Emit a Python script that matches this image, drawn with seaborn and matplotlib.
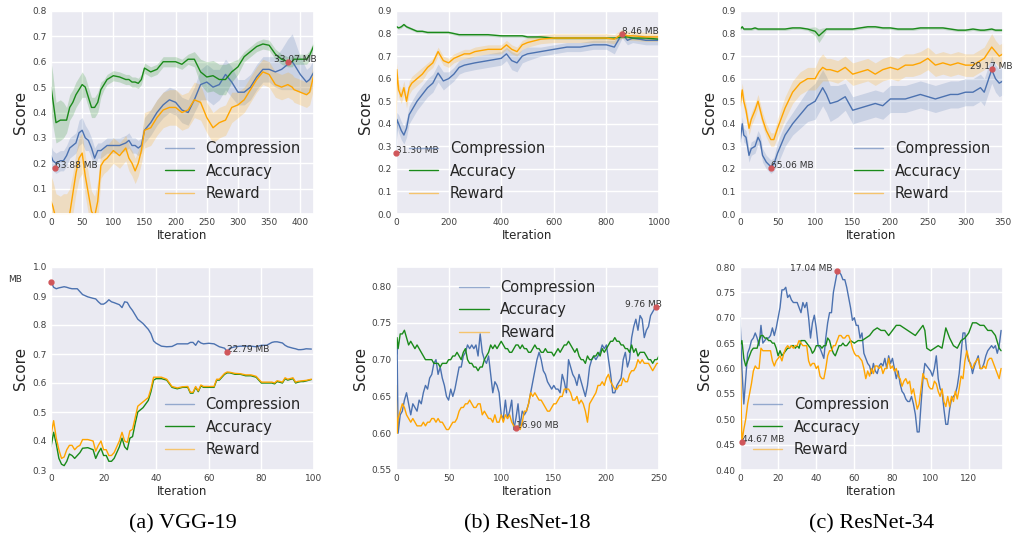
import seaborn as sns
import matplotlib.pyplot as plt
import numpy as np

# ---------------- (a) VGG-19, top: averaged runs ----------------
vgg_top_x = [0, 3, 8, 15, 20, 25, 30, 35, 40, 45,
             50, 55, 60, 65, 70, 75, 80, 85, 90, 100,
             110, 120, 125, 130, 135, 140, 145, 150, 160, 170,
             180, 190, 200, 210, 220, 230, 240, 250, 260, 270,
             280, 290, 300, 310, 320, 330, 340, 350, 360, 370,
             380, 387, 390, 400, 410, 415, 422]
vgg_top_comp = [0.23, 0.21, 0.20, 0.21, 0.21, 0.23, 0.26, 0.27, 0.28, 0.32,
                0.33, 0.30, 0.29, 0.26, 0.22, 0.25, 0.25, 0.26, 0.27, 0.27,
                0.27, 0.28, 0.29, 0.27, 0.27, 0.26, 0.27, 0.33, 0.36, 0.40,
                0.43, 0.45, 0.44, 0.41, 0.40, 0.45, 0.51, 0.52, 0.50, 0.51,
                0.55, 0.52, 0.48, 0.48, 0.50, 0.54, 0.57, 0.57, 0.56, 0.57,
                0.59, 0.60, 0.59, 0.55, 0.52, 0.53, 0.56]
vgg_top_comp_sd = [0.04, 0.04, 0.04, 0.04, 0.04, 0.04, 0.04, 0.04, 0.04, 0.05,
                   0.05, 0.05, 0.04, 0.04, 0.04, 0.03, 0.03, 0.03, 0.03, 0.03,
                   0.03, 0.03, 0.03, 0.03, 0.03, 0.03, 0.03, 0.05, 0.05, 0.05,
                   0.05, 0.05, 0.05, 0.05, 0.05, 0.05, 0.06, 0.07, 0.07, 0.06,
                   0.06, 0.06, 0.05, 0.05, 0.05, 0.05, 0.05, 0.05, 0.06, 0.08,
                   0.10, 0.11, 0.10, 0.07, 0.05, 0.05, 0.05]
vgg_top_acc = [0.50, 0.45, 0.36, 0.37, 0.37, 0.37, 0.42, 0.44, 0.47, 0.49,
               0.51, 0.50, 0.46, 0.42, 0.42, 0.44, 0.49, 0.51, 0.53, 0.545,
               0.54, 0.53, 0.53, 0.52, 0.52, 0.515, 0.53, 0.575, 0.56, 0.57,
               0.60, 0.60, 0.60, 0.59, 0.61, 0.61, 0.56, 0.54, 0.545, 0.53,
               0.53, 0.56, 0.58, 0.62, 0.64, 0.66, 0.67, 0.665, 0.63, 0.61,
               0.60, 0.60, 0.61, 0.61, 0.61, 0.625, 0.665]
vgg_top_acc_sd = [0.10, 0.10, 0.08, 0.08, 0.07, 0.05, 0.05, 0.05, 0.05, 0.05,
                  0.05, 0.04, 0.04, 0.04, 0.04, 0.04, 0.03, 0.02, 0.02, 0.02,
                  0.02, 0.02, 0.02, 0.02, 0.02, 0.02, 0.02, 0.02, 0.02, 0.02,
                  0.02, 0.02, 0.02, 0.02, 0.02, 0.03, 0.05, 0.06, 0.06, 0.06,
                  0.06, 0.04, 0.03, 0.02, 0.02, 0.02, 0.02, 0.02, 0.02, 0.02,
                  0.02, 0.02, 0.02, 0.02, 0.02, 0.02, 0.02]
vgg_top_rew = [0.05, 0.03, -0.02, -0.03, -0.02, -0.02, 0.0, 0.08, 0.16, 0.22,
               0.24, 0.15, 0.08, 0.01, -0.01, 0.05, 0.19, 0.21, 0.22, 0.25,
               0.23, 0.26, 0.22, 0.20, 0.17, 0.20, 0.25, 0.33, 0.34, 0.38,
               0.41, 0.42, 0.42, 0.40, 0.41, 0.45, 0.44, 0.38, 0.34, 0.36,
               0.37, 0.42, 0.43, 0.45, 0.49, 0.53, 0.56, 0.55, 0.51, 0.50,
               0.51, 0.50, 0.49, 0.48, 0.47, 0.48, 0.55]
vgg_top_rew_sd = [0.10, 0.10, 0.10, 0.10, 0.10, 0.10, 0.10, 0.08, 0.08, 0.08,
                  0.08, 0.08, 0.08, 0.08, 0.08, 0.08, 0.05, 0.05, 0.05, 0.05,
                  0.05, 0.05, 0.05, 0.05, 0.05, 0.05, 0.05, 0.07, 0.07, 0.07,
                  0.07, 0.07, 0.07, 0.07, 0.07, 0.07, 0.07, 0.06, 0.06, 0.06,
                  0.06, 0.06, 0.05, 0.05, 0.05, 0.05, 0.05, 0.05, 0.05, 0.05,
                  0.05, 0.05, 0.05, 0.05, 0.05, 0.05, 0.05]

# ---------------- (b) ResNet-18, top ----------------
r18_top_x = [0, 3, 10, 20, 30, 40, 50, 60, 80, 100,
             120, 140, 160, 180, 200, 220, 240, 260, 280, 300,
             350, 400, 420, 440, 460, 480, 500, 550, 600, 650,
             700, 750, 800, 830, 860, 880, 900, 950, 1000]
r18_top_comp = [0.27, 0.42, 0.40, 0.37, 0.35, 0.38, 0.44, 0.46, 0.50, 0.53,
                0.56, 0.58, 0.625, 0.59, 0.60, 0.62, 0.65, 0.66, 0.665, 0.67,
                0.68, 0.69, 0.71, 0.68, 0.67, 0.70, 0.71, 0.72, 0.73, 0.74,
                0.74, 0.75, 0.75, 0.74, 0.80, 0.77, 0.78, 0.77, 0.77]
r18_top_comp_sd = [0.0, 0.03, 0.04, 0.04, 0.04, 0.04, 0.04, 0.04, 0.04, 0.04,
                   0.04, 0.04, 0.04, 0.04, 0.03, 0.03, 0.03, 0.03, 0.03, 0.03,
                   0.03, 0.03, 0.03, 0.04, 0.04, 0.03, 0.03, 0.02, 0.02, 0.02,
                   0.02, 0.02, 0.02, 0.03, 0.02, 0.02, 0.02, 0.02, 0.02]
r18_top_acc = [0.83, 0.83, 0.825, 0.83, 0.84, 0.83, 0.825, 0.82, 0.81, 0.81,
               0.805, 0.805, 0.805, 0.805, 0.805, 0.80, 0.795, 0.795, 0.795, 0.795,
               0.795, 0.79, 0.79, 0.79, 0.79, 0.79, 0.785, 0.785, 0.78, 0.78,
               0.78, 0.78, 0.78, 0.78, 0.785, 0.785, 0.78, 0.78, 0.775]
r18_top_acc_sd = [0.006] * 39
r18_top_rew = [0.38, 0.64, 0.55, 0.52, 0.56, 0.50, 0.56, 0.58, 0.60, 0.62,
               0.65, 0.67, 0.72, 0.68, 0.67, 0.69, 0.70, 0.71, 0.71, 0.72,
               0.73, 0.73, 0.75, 0.73, 0.72, 0.75, 0.76, 0.775, 0.78, 0.78,
               0.78, 0.78, 0.78, 0.775, 0.80, 0.79, 0.79, 0.785, 0.785]
r18_top_rew_sd = [0.03] * 10 + [0.02] * 29

# ---------------- (c) ResNet-34, top ----------------
r34_top_x = [0, 3, 5, 8, 12, 15, 20, 24, 27, 30,
             35, 41, 45, 50, 60, 70, 80, 90, 100, 105,
             110, 115, 120, 130, 140, 150, 160, 170, 180, 190,
             200, 210, 220, 230, 240, 250, 260, 270, 280, 290,
             300, 310, 320, 325, 335, 340, 345, 350]
r34_top_comp = [0.32, 0.40, 0.35, 0.34, 0.26, 0.29, 0.30, 0.34, 0.32, 0.26,
                0.23, 0.21, 0.22, 0.27, 0.35, 0.40, 0.44, 0.48, 0.50, 0.53,
                0.56, 0.53, 0.49, 0.50, 0.52, 0.46, 0.47, 0.48, 0.49, 0.48,
                0.51, 0.51, 0.51, 0.52, 0.53, 0.52, 0.51, 0.52, 0.53, 0.53,
                0.54, 0.54, 0.56, 0.54, 0.64, 0.60, 0.58, 0.59]
r34_top_comp_sd = [0.03, 0.03, 0.03, 0.03, 0.03, 0.03, 0.03, 0.03, 0.03, 0.03,
                   0.03, 0.03, 0.03, 0.05, 0.05, 0.05, 0.06, 0.07, 0.08, 0.08,
                   0.08, 0.08, 0.08, 0.07, 0.06, 0.06, 0.06, 0.06, 0.06, 0.06,
                   0.06, 0.06, 0.06, 0.06, 0.06, 0.06, 0.06, 0.06, 0.06, 0.06,
                   0.06, 0.06, 0.06, 0.06, 0.06, 0.06, 0.06, 0.06]
r34_top_acc = [0.82, 0.83, 0.82, 0.82, 0.82, 0.82, 0.825, 0.82, 0.82, 0.82,
               0.82, 0.82, 0.82, 0.82, 0.82, 0.825, 0.825, 0.82, 0.81, 0.79,
               0.805, 0.82, 0.82, 0.82, 0.82, 0.82, 0.825, 0.83, 0.83, 0.825,
               0.825, 0.82, 0.82, 0.82, 0.825, 0.825, 0.825, 0.825, 0.82, 0.815,
               0.815, 0.82, 0.815, 0.815, 0.82, 0.815, 0.815, 0.815]
r34_top_acc_sd = [0.006] * 18 + [0.02, 0.03, 0.02] + [0.006] * 27
r34_top_rew = [0.48, 0.55, 0.50, 0.46, 0.38, 0.42, 0.46, 0.50, 0.46, 0.42,
               0.37, 0.33, 0.33, 0.38, 0.47, 0.54, 0.58, 0.60, 0.60, 0.63,
               0.65, 0.64, 0.64, 0.63, 0.65, 0.62, 0.63, 0.64, 0.62, 0.64,
               0.65, 0.64, 0.66, 0.66, 0.67, 0.69, 0.66, 0.67, 0.66, 0.67,
               0.66, 0.66, 0.68, 0.69, 0.74, 0.72, 0.70, 0.71]
r34_top_rew_sd = [0.03, 0.03, 0.03, 0.03, 0.03, 0.03, 0.03, 0.03, 0.03, 0.03,
                  0.03, 0.03, 0.03, 0.04, 0.05, 0.05, 0.05, 0.05, 0.05, 0.06,
                  0.06, 0.05, 0.05, 0.05, 0.05, 0.05, 0.05, 0.05, 0.05, 0.05,
                  0.05, 0.05, 0.05, 0.05, 0.05, 0.05, 0.05, 0.05, 0.05, 0.05,
                  0.05, 0.05, 0.05, 0.05, 0.06, 0.05, 0.05, 0.05]

# ---------------- (a) VGG-19, bottom: single run ----------------
vgg_bot_x = [0, 1, 2, 3, 4, 5, 6, 7, 8, 9,
             10, 11, 12, 14, 16, 17, 18, 19, 20, 21,
             22, 23, 24, 26, 27, 28, 29, 30, 31, 32,
             33, 35, 37, 38, 39, 40, 42, 44, 46, 48,
             50, 52, 53, 54, 55, 56, 57, 58, 60, 62,
             63, 64, 66, 67, 68, 70, 72, 74, 76, 78,
             80, 82, 84, 85, 86, 88, 89, 90, 92, 93,
             94, 95, 96, 97, 99]
vgg_bot_comp = [0.95, 0.93, 0.925, 0.928, 0.93, 0.932, 0.93, 0.927, 0.925, 0.925,
                0.925, 0.915, 0.905, 0.897, 0.892, 0.89, 0.88, 0.872, 0.872, 0.878,
                0.887, 0.88, 0.877, 0.87, 0.86, 0.88, 0.878, 0.862, 0.85, 0.835,
                0.82, 0.805, 0.785, 0.77, 0.745, 0.737, 0.727, 0.725, 0.726, 0.735,
                0.735, 0.735, 0.74, 0.74, 0.73, 0.745, 0.738, 0.735, 0.737, 0.735,
                0.73, 0.725, 0.72, 0.708, 0.72, 0.725, 0.727, 0.727, 0.727, 0.725,
                0.73, 0.73, 0.74, 0.742, 0.742, 0.738, 0.73, 0.725, 0.72, 0.718,
                0.715, 0.715, 0.716, 0.718, 0.717]
vgg_bot_acc = [0.38, 0.43, 0.39, 0.34, 0.32, 0.315, 0.33, 0.355, 0.35, 0.34,
               0.35, 0.36, 0.375, 0.377, 0.37, 0.34, 0.36, 0.375, 0.35, 0.35,
               0.33, 0.33, 0.34, 0.38, 0.41, 0.38, 0.37, 0.41, 0.415, 0.46,
               0.50, 0.515, 0.54, 0.57, 0.61, 0.615, 0.615, 0.61, 0.585, 0.58,
               0.585, 0.585, 0.565, 0.565, 0.585, 0.57, 0.59, 0.585, 0.585, 0.585,
               0.61, 0.61, 0.63, 0.635, 0.635, 0.63, 0.63, 0.625, 0.625, 0.62,
               0.60, 0.60, 0.60, 0.597, 0.605, 0.60, 0.615, 0.61, 0.615, 0.60,
               0.603, 0.605, 0.605, 0.607, 0.612]
vgg_bot_rew = [0.42, 0.47, 0.41, 0.37, 0.34, 0.345, 0.37, 0.385, 0.385, 0.37,
               0.38, 0.385, 0.405, 0.405, 0.40, 0.365, 0.385, 0.40, 0.37, 0.37,
               0.35, 0.35, 0.36, 0.40, 0.43, 0.40, 0.395, 0.435, 0.44, 0.48,
               0.52, 0.535, 0.55, 0.58, 0.62, 0.62, 0.62, 0.613, 0.588, 0.583,
               0.587, 0.588, 0.568, 0.568, 0.588, 0.573, 0.593, 0.588, 0.588, 0.588,
               0.613, 0.613, 0.633, 0.638, 0.637, 0.633, 0.632, 0.628, 0.628, 0.623,
               0.603, 0.603, 0.603, 0.60, 0.608, 0.603, 0.618, 0.613, 0.618, 0.603,
               0.606, 0.607, 0.608, 0.609, 0.613]

# ---------------- (b) ResNet-18, bottom ----------------
r18_bot_x = [0, 1] + list(range(2, 251, 2))
r18_bot_comp = [0.70, 0.72,
                0.60, 0.625, 0.63, 0.645, 0.655, 0.64, 0.625, 0.64, 0.635, 0.63,
                0.645, 0.64, 0.655, 0.665, 0.66, 0.675, 0.68, 0.695, 0.70, 0.68,
                0.69, 0.675, 0.665, 0.65, 0.645, 0.66, 0.65, 0.66, 0.675, 0.69,
                0.69, 0.705, 0.71, 0.72, 0.715, 0.72, 0.715, 0.72, 0.705, 0.735,
                0.71, 0.70, 0.695, 0.705, 0.68, 0.655, 0.67, 0.665, 0.655, 0.625,
                0.62, 0.645, 0.62, 0.63, 0.645, 0.605, 0.62, 0.64, 0.61, 0.63,
                0.625, 0.63, 0.64, 0.655, 0.67, 0.685, 0.70, 0.71, 0.70, 0.685,
                0.68, 0.67, 0.665, 0.66, 0.665, 0.66, 0.66, 0.655, 0.68, 0.67,
                0.655, 0.70, 0.69, 0.68, 0.675, 0.665, 0.68, 0.67, 0.66, 0.65,
                0.665, 0.69, 0.70, 0.705, 0.70, 0.705, 0.71, 0.72, 0.715, 0.72,
                0.70, 0.68, 0.655, 0.655, 0.665, 0.67, 0.675, 0.70, 0.71, 0.69,
                0.70, 0.73, 0.745, 0.755, 0.74, 0.76, 0.755, 0.73, 0.74, 0.745,
                0.76, 0.765, 0.77, 0.77, 0.77]
r18_bot_acc = [0.715, 0.73,
               0.715, 0.735, 0.735, 0.74, 0.73, 0.72, 0.725, 0.72, 0.715, 0.72,
               0.715, 0.71, 0.705, 0.70, 0.70, 0.70, 0.70, 0.695, 0.695, 0.695,
               0.69, 0.695, 0.695, 0.695, 0.70, 0.70, 0.705, 0.705, 0.71, 0.705,
               0.70, 0.71, 0.715, 0.70, 0.695, 0.695, 0.69, 0.69, 0.685, 0.69,
               0.69, 0.70, 0.705, 0.71, 0.72, 0.715, 0.72, 0.715, 0.72, 0.725,
               0.72, 0.715, 0.715, 0.71, 0.71, 0.715, 0.72, 0.72, 0.715, 0.72,
               0.715, 0.715, 0.71, 0.71, 0.715, 0.72, 0.715, 0.715, 0.71, 0.71,
               0.715, 0.71, 0.71, 0.71, 0.705, 0.71, 0.715, 0.71, 0.715, 0.72,
               0.72, 0.725, 0.72, 0.715, 0.71, 0.715, 0.705, 0.70, 0.70, 0.695,
               0.705, 0.70, 0.70, 0.705, 0.705, 0.71, 0.705, 0.715, 0.71, 0.715,
               0.72, 0.725, 0.725, 0.73, 0.725, 0.725, 0.72, 0.72, 0.715, 0.715,
               0.71, 0.72, 0.71, 0.715, 0.705, 0.71, 0.71, 0.71, 0.705, 0.70,
               0.70, 0.695, 0.70, 0.70, 0.705]
r18_bot_rew = [0.665, 0.60,
               0.62, 0.63, 0.64, 0.635, 0.625, 0.62, 0.615, 0.62, 0.615, 0.61,
               0.61, 0.61, 0.615, 0.61, 0.615, 0.615, 0.62, 0.62, 0.615, 0.62,
               0.615, 0.615, 0.61, 0.605, 0.605, 0.61, 0.615, 0.615, 0.62, 0.63,
               0.635, 0.635, 0.64, 0.64, 0.645, 0.64, 0.635, 0.635, 0.64, 0.64,
               0.625, 0.63, 0.625, 0.62, 0.62, 0.615, 0.625, 0.615, 0.615, 0.625,
               0.615, 0.625, 0.62, 0.625, 0.615, 0.61, 0.607, 0.61, 0.605, 0.615,
               0.63, 0.63, 0.64, 0.655, 0.65, 0.655, 0.65, 0.645, 0.645, 0.64,
               0.635, 0.63, 0.63, 0.635, 0.64, 0.64, 0.645, 0.65, 0.65, 0.66,
               0.66, 0.66, 0.655, 0.645, 0.645, 0.65, 0.64, 0.645, 0.64, 0.63,
               0.615, 0.64, 0.645, 0.65, 0.655, 0.665, 0.665, 0.67, 0.665, 0.675,
               0.68, 0.67, 0.665, 0.66, 0.66, 0.665, 0.665, 0.675, 0.67, 0.67,
               0.68, 0.685, 0.685, 0.69, 0.70, 0.695, 0.70, 0.695, 0.695, 0.695,
               0.69, 0.685, 0.69, 0.695, 0.695]

# ---------------- (c) ResNet-34, bottom ----------------
r34_bot_x = list(range(138))
r34_bot_comp = [0.70, 0.60, 0.53, 0.58, 0.63, 0.64, 0.655, 0.66, 0.67, 0.66,
                0.645, 0.685, 0.65, 0.655, 0.66, 0.66, 0.665, 0.68, 0.665, 0.68,
                0.70, 0.72, 0.755, 0.755, 0.76, 0.74, 0.745, 0.735, 0.73, 0.73,
                0.73, 0.72, 0.71, 0.73, 0.72, 0.73, 0.70, 0.66, 0.69, 0.705,
                0.68, 0.645, 0.64, 0.63, 0.62, 0.66, 0.69, 0.71, 0.71, 0.75,
                0.77, 0.79, 0.79, 0.785, 0.775, 0.775, 0.76, 0.74, 0.72, 0.695,
                0.70, 0.685, 0.685, 0.66, 0.67, 0.63, 0.62, 0.61, 0.605, 0.59,
                0.61, 0.595, 0.59, 0.605, 0.61, 0.605, 0.62, 0.60, 0.625, 0.61,
                0.62, 0.60, 0.58, 0.595, 0.57, 0.555, 0.55, 0.54, 0.535, 0.535,
                0.545, 0.53, 0.51, 0.475, 0.475, 0.53, 0.58, 0.61, 0.605, 0.60,
                0.595, 0.585, 0.60, 0.625, 0.58, 0.56, 0.555, 0.52, 0.49, 0.49,
                0.52, 0.54, 0.545, 0.55, 0.565, 0.59, 0.63, 0.67, 0.67, 0.63,
                0.615, 0.61, 0.59, 0.605, 0.615, 0.625, 0.60, 0.60, 0.61, 0.625,
                0.635, 0.64, 0.645, 0.64, 0.645, 0.63, 0.645, 0.675]
r34_bot_rew = [0.645, 0.455, 0.48, 0.50, 0.53, 0.55, 0.57, 0.595, 0.605, 0.60,
               0.60, 0.64, 0.635, 0.635, 0.635, 0.635, 0.635, 0.615, 0.605, 0.615,
               0.62, 0.625, 0.615, 0.63, 0.64, 0.645, 0.64, 0.645, 0.64, 0.645,
               0.645, 0.655, 0.65, 0.645, 0.645, 0.645, 0.615, 0.605, 0.61, 0.61,
               0.60, 0.605, 0.585, 0.58, 0.58, 0.60, 0.625, 0.635, 0.635, 0.645,
               0.645, 0.655, 0.665, 0.665, 0.66, 0.66, 0.665, 0.665, 0.655, 0.64,
               0.63, 0.625, 0.625, 0.62, 0.615, 0.60, 0.58, 0.595, 0.585, 0.60,
               0.59, 0.605, 0.605, 0.60, 0.605, 0.59, 0.60, 0.60, 0.62, 0.60,
               0.605, 0.595, 0.60, 0.585, 0.58, 0.565, 0.575, 0.58, 0.57, 0.575,
               0.55, 0.56, 0.54, 0.52, 0.53, 0.56, 0.59, 0.58, 0.58, 0.565,
               0.56, 0.56, 0.575, 0.57, 0.555, 0.545, 0.56, 0.535, 0.525, 0.545,
               0.525, 0.545, 0.535, 0.555, 0.54, 0.56, 0.585, 0.58, 0.615, 0.635,
               0.62, 0.605, 0.60, 0.61, 0.615, 0.62, 0.60, 0.60, 0.605, 0.60,
               0.615, 0.62, 0.62, 0.61, 0.60, 0.59, 0.58, 0.60]
r34_bot_acc_x = list(range(59)) + [60, 62, 64, 66, 68, 70, 72, 74, 76, 78,
                                   80, 82, 84, 86, 88, 90, 92, 94, 96, 97,
                                   98, 100, 102, 104, 106, 108, 109, 110, 112, 114,
                                   116, 118, 120, 122, 124, 126, 128, 130, 132, 134,
                                   136, 137]
r34_bot_acc = [0.645, 0.655, 0.62, 0.605, 0.615, 0.625, 0.635, 0.64, 0.64, 0.64,
               0.655, 0.665, 0.665, 0.66, 0.66, 0.655, 0.655, 0.65, 0.65, 0.64,
               0.625, 0.635, 0.625, 0.63, 0.635, 0.64, 0.64, 0.645, 0.645, 0.64,
               0.645, 0.64, 0.655, 0.655, 0.655, 0.65, 0.645, 0.64, 0.63, 0.635,
               0.645, 0.645, 0.645, 0.64, 0.645, 0.645, 0.66, 0.655, 0.64, 0.63,
               0.625, 0.635, 0.645, 0.645, 0.65, 0.645, 0.645, 0.65, 0.655,
               0.65, 0.655, 0.655, 0.66, 0.665, 0.675, 0.68, 0.675, 0.675, 0.665,
               0.675, 0.685, 0.685, 0.68, 0.675, 0.67, 0.665, 0.675, 0.685, 0.675,
               0.64, 0.635, 0.64, 0.645, 0.64, 0.68, 0.67, 0.66, 0.645, 0.64,
               0.655, 0.66, 0.67, 0.69, 0.69, 0.685, 0.685, 0.675, 0.675, 0.665,
               0.64, 0.635]

# marked points (x, y, label)
vgg_top_marks = [(7, 0.18, "63.88 MB"), (380, 0.60, "33.07 MB")]
r18_top_marks = [(0, 0.27, "31.30 MB"), (860, 0.80, "8.46 MB")]
r34_top_marks = [(41, 0.206, "65.06 MB"), (335, 0.644, "29.17 MB")]
vgg_bot_marks = [(0, 0.95, "MB"), (67, 0.708, "22.79 MB")]
r18_bot_marks = [(114, 0.607, "16.90 MB"), (247, 0.772, "9.76 MB")]
r34_bot_marks = [(1, 0.455, "44.67 MB"), (51, 0.792, "17.04 MB")]

captions = ["(a) VGG-19", "(b) ResNet-18", "(c) ResNet-34"]

BLUE, GREEN, ORANGE = "#4c72b0", "#1a8a1a", "#ffa500"

sns.set_theme(style="darkgrid")
plt.rcParams["font.family"] = ["DejaVu Sans"]

fig = plt.figure(figsize=(10.13, 5.39), dpi=100)
W, H = 1013, 539


def make_ax(left, top):
    return fig.add_axes([left / W, 1 - (top + 203) / H, 263 / W, 203 / H])


def draw(ax, series, marks, offsets, loc, xlim, ylim, xticks, yticks):
    for name, x, y, sd, color in series:
        sns.lineplot(x=x, y=y, ax=ax, color=color, linewidth=1.0, label=name)
        if sd is not None:
            y_arr, sd_arr = np.array(y), np.array(sd)
            ax.fill_between(x, y_arr - sd_arr, y_arr + sd_arr, color=color, alpha=0.2, linewidth=0)
    for (mx, my, txt), off in zip(marks, offsets):
        ax.plot(mx, my, "o", color="#d0565a", markersize=3.5, zorder=5, clip_on=False)
        ax.annotate(txt, (mx, my), xytext=off, textcoords="offset points",
                    fontsize=6.5, color=".2", annotation_clip=False)
    ax.set_xlim(*xlim)
    ax.set_ylim(*ylim)
    ax.set_xticks(xticks)
    ax.set_yticks(yticks)
    ax.tick_params(labelsize=6.5, pad=3, length=0, colors=".25")
    ax.set_xlabel("Iteration", fontsize=8.5, labelpad=1.5)
    ax.set_ylabel("Score", fontsize=11, labelpad=3)
    leg = ax.legend(loc=loc, frameon=False, fontsize=10.5, handlelength=2.0)
    for line, a in zip(leg.get_lines(), [0.55, 1.0, 0.55]):
        line.set_alpha(a)


lefts = [51, 396, 740]

ax = make_ax(lefts[0], 11)
draw(ax, [("Compression", vgg_top_x, vgg_top_comp, vgg_top_comp_sd, BLUE),
          ("Accuracy", vgg_top_x, vgg_top_acc, vgg_top_acc_sd, GREEN),
          ("Reward", vgg_top_x, vgg_top_rew, vgg_top_rew_sd, ORANGE)],
     vgg_top_marks, [(0, 0), (-10, 0)], "lower right",
     (0, 422), (0, 0.8), range(0, 401, 50), np.arange(0, 0.81, 0.1))

ax = make_ax(lefts[1], 11)
draw(ax, [("Compression", r18_top_x, r18_top_comp, r18_top_comp_sd, BLUE),
          ("Accuracy", r18_top_x, r18_top_acc, r18_top_acc_sd, GREEN),
          ("Reward", r18_top_x, r18_top_rew, r18_top_rew_sd, ORANGE)],
     r18_top_marks, [(0, 0), (0, 0)], "lower left",
     (0, 1000), (0, 0.9), range(0, 1001, 200), np.arange(0, 0.91, 0.1))

ax = make_ax(lefts[2], 11)
draw(ax, [("Compression", r34_top_x, r34_top_comp, r34_top_comp_sd, BLUE),
          ("Accuracy", r34_top_x, r34_top_acc, r34_top_acc_sd, GREEN),
          ("Reward", r34_top_x, r34_top_rew, r34_top_rew_sd, ORANGE)],
     r34_top_marks, [(0, 0), (-16, 0)], "lower right",
     (0, 350), (0, 0.9), range(0, 351, 50), np.arange(0, 0.91, 0.1))

ax = make_ax(lefts[0], 267)
draw(ax, [("Compression", vgg_bot_x, vgg_bot_comp, None, BLUE),
          ("Accuracy", vgg_bot_x, vgg_bot_acc, None, GREEN),
          ("Reward", vgg_bot_x, vgg_bot_rew, None, ORANGE)],
     vgg_bot_marks, [(-31, 0), (0, 0)], "lower right",
     (0, 100), (0.3, 1.0), range(0, 101, 20), np.arange(0.3, 1.01, 0.1))

ax = make_ax(lefts[1], 267)
draw(ax, [("Compression", r18_bot_x, r18_bot_comp, None, BLUE),
          ("Accuracy", r18_bot_x, r18_bot_acc, None, GREEN),
          ("Reward", r18_bot_x, r18_bot_rew, None, ORANGE)],
     r18_bot_marks, [(0, 0), (-22, 0)], "upper center",
     (0, 250), (0.55, 0.826), range(0, 251, 50), np.arange(0.55, 0.801, 0.05))

ax = make_ax(lefts[2], 267)
draw(ax, [("Compression", r34_bot_x, r34_bot_comp, None, BLUE),
          ("Accuracy", r34_bot_acc_x, r34_bot_acc, None, GREEN),
          ("Reward", r34_bot_x, r34_bot_rew, None, ORANGE)],
     r34_bot_marks, [(0, 0), (-34, 0)], "lower left",
     (0, 138), (0.4, 0.8), range(0, 121, 20), np.arange(0.4, 0.801, 0.05))

for left, cap in zip(lefts, captions):
    fig.text((left + 131.5) / W, 1 - 524 / H, cap, ha="center", va="center",
             fontsize=16, family="Liberation Serif", color="black")

fig.savefig("out.png", dpi=100)
